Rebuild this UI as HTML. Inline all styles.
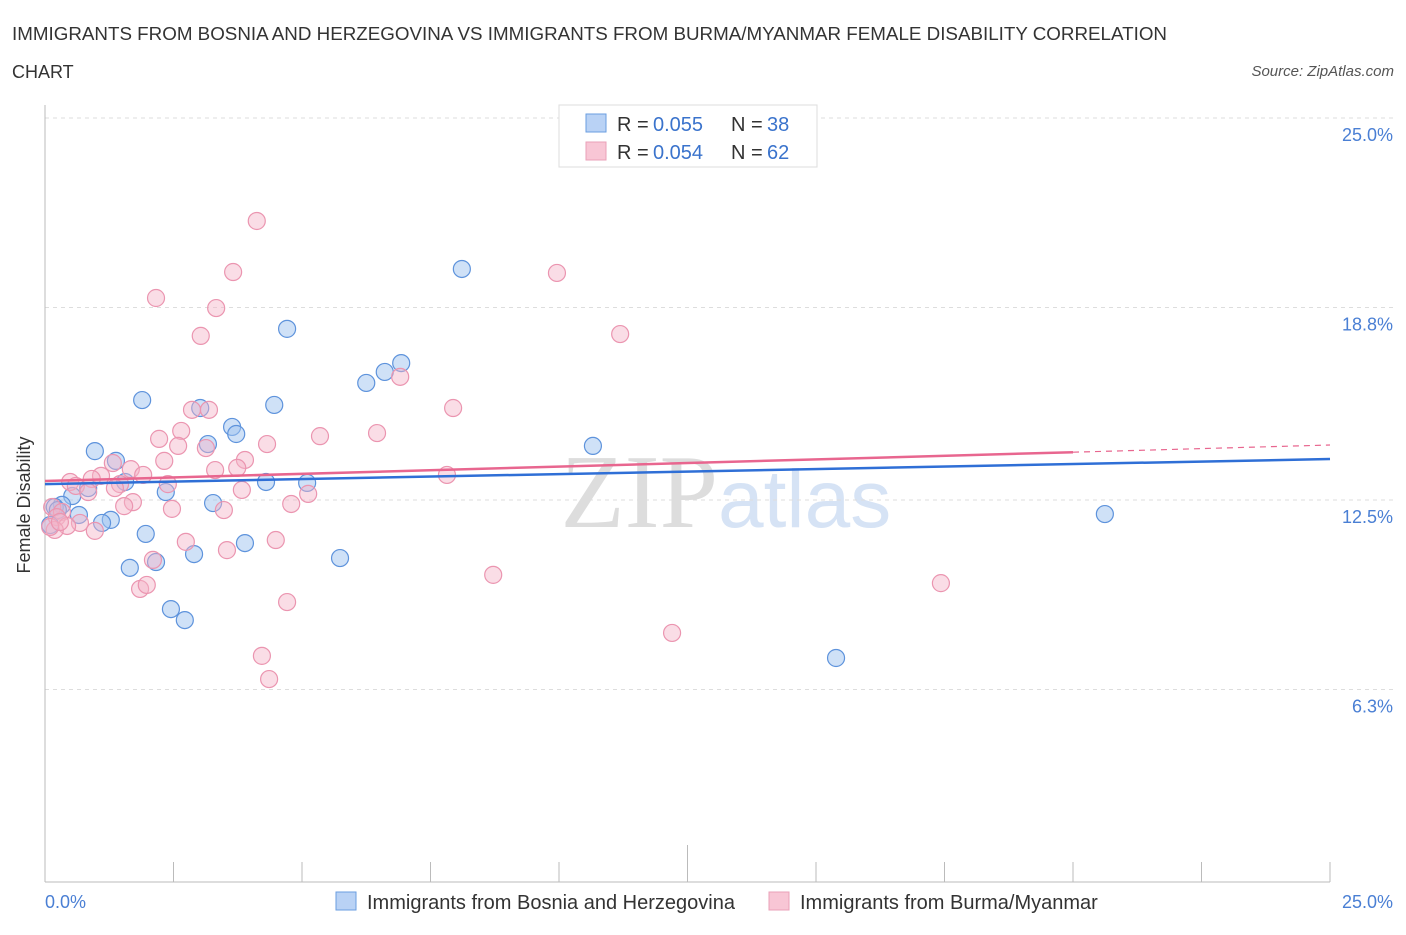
<!DOCTYPE html>
<html><head><meta charset="utf-8"><style>
body{margin:0;background:#fff;font-family:"Liberation Sans",sans-serif;}
</style></head><body>
<svg width="1406" height="930" viewBox="0 0 1406 930" font-family="Liberation Sans, sans-serif">
<text x="12" y="40" font-size="18" textLength="1155" lengthAdjust="spacingAndGlyphs" fill="#333">IMMIGRANTS FROM BOSNIA AND HERZEGOVINA VS IMMIGRANTS FROM BURMA/MYANMAR FEMALE DISABILITY CORRELATION</text>
<text x="12" y="78" font-size="18" fill="#333">CHART</text>
<text x="1394" y="76" font-size="15" fill="#555" font-style="italic" text-anchor="end">Source: ZipAtlas.com</text>
<text x="718" y="527" font-size="105" fill="#ddd" text-anchor="end" font-family="Liberation Serif, serif">ZIP</text>
<text x="718" y="527" font-size="82" fill="#d6e3f5">atlas</text>
<g id="grid"></g>
<line x1="45" y1="105" x2="45" y2="882" stroke="#bbb"/>
<line x1="45" y1="882" x2="1330" y2="882" stroke="#bbb"/>
<g id="ticks"></g>
<g id="pts"></g>
<g id="trends"></g>
<text x="18" y="493" font-size="18" fill="#333" text-anchor="middle" transform="rotate(-90 30 493)">Female Disability</text>
<text x="45" y="908" font-size="18" fill="#4a7fd4">0.0%</text>
<text x="1393" y="908" font-size="18" fill="#4a7fd4" text-anchor="end">25.0%</text>
<g>
<rect x="559" y="105" width="258" height="62" fill="#fff" stroke="#ddd"/>
<rect x="586" y="114" width="20" height="18" fill="#b9d2f5" stroke="#6a9ee0"/>
<rect x="586" y="142" width="20" height="18" fill="#f8c6d5" stroke="#eaa0b8"/>
<text x="617" y="131" font-size="20" fill="#333">R =</text><text x="653" y="131" font-size="20" fill="#3a73cc">0.055</text>
<text x="731" y="131" font-size="20" fill="#333">N =</text><text x="767" y="131" font-size="20" fill="#3a73cc">38</text>
<text x="617" y="159" font-size="20" fill="#333">R =</text><text x="653" y="159" font-size="20" fill="#3a73cc">0.054</text>
<text x="731" y="159" font-size="20" fill="#333">N =</text><text x="767" y="159" font-size="20" fill="#3a73cc">62</text>
</g>
<g>
<rect x="336" y="892" width="20" height="18" fill="#b9d2f5" stroke="#6a9ee0"/>
<text x="367" y="909" font-size="20" fill="#333">Immigrants from Bosnia and Herzegovina</text>
<rect x="769" y="892" width="20" height="18" fill="#f8c6d5" stroke="#eaa0b8"/>
<text x="800" y="909" font-size="20" fill="#333">Immigrants from Burma/Myanmar</text>
</g>
</svg>
<script>
const yTicks=[25.0,18.8,12.5,6.3];
const yTickLabels=["25.0%","18.8%","12.5%","6.3%"];
const blueX=[8.11,4.71,6.93,6.61,6.25,1.89,4.46,3.02,3.64,3.72,3.17,0.97,10.66,1.38,1.56,4.30,5.10,0.84,2.35,0.53,3.27,0.33,0.19,0.66,1.28,1.11,20.62,1.96,3.89,2.90,5.74,2.16,1.65,2.45,2.72,15.39,0.10,0.25];
const blueY=[20.06,18.10,16.98,16.69,16.33,15.77,15.61,15.51,14.89,14.66,14.33,14.10,14.27,13.78,13.09,13.09,13.06,12.89,12.76,12.63,12.40,12.34,12.27,12.01,11.85,11.75,12.04,11.39,11.09,10.73,10.60,10.47,10.28,8.93,8.57,7.33,11.68,12.17];
const pinkX=[4.12,3.66,9.96,2.16,3.33,3.03,11.19,6.91,7.94,2.86,3.19,2.65,5.35,6.46,2.22,2.59,3.13,4.32,1.32,3.89,2.32,3.74,3.31,1.67,1.91,7.82,1.09,0.49,1.46,2.39,0.91,0.60,1.36,3.83,0.84,5.12,1.71,1.54,4.79,2.47,3.48,0.14,0.33,0.23,0.68,0.43,0.97,0.19,0.10,2.74,4.49,2.10,3.54,1.85,1.98,8.72,17.43,4.71,12.20,4.22,4.36,0.29];
const pinkY=[21.63,19.96,19.93,19.11,18.78,17.87,17.93,16.53,15.51,15.45,15.45,14.76,14.59,14.69,14.50,14.27,14.20,14.33,13.71,13.81,13.78,13.55,13.48,13.51,13.32,13.32,13.29,13.09,13.02,13.02,13.19,12.96,12.89,12.83,12.76,12.70,12.43,12.30,12.37,12.21,12.17,12.27,12.11,11.94,11.75,11.65,11.49,11.52,11.62,11.13,11.19,10.54,10.86,9.59,9.72,10.05,9.78,9.16,8.15,7.40,6.64,11.78];
const blueTrend=[13.02,13.84];
const pinkTrend=[13.12,14.30];
const pinkSolidEnd=20;
const NS="http://www.w3.org/2000/svg";
const xs=v=>45+v/25*1285, ys=v=>882-v/25*764;
function mk(t,a,p){const e=document.createElementNS(NS,t);for(const k in a)e.setAttribute(k,a[k]);p.appendChild(e);return e;}
const grid=document.getElementById('grid');
yTicks.forEach((t,i)=>{
 const l=mk('line',{x1:45,x2:1393,y1:ys(t),y2:ys(t),stroke:'#ddd','stroke-dasharray':'4,4'},grid);
 
 
 const tx=mk('text',{x:1393,y:ys(t)+23,'font-size':18,fill:'#4a7fd4','text-anchor':'end'},grid);
 tx.textContent=yTickLabels[i];
 
 
});
const tk=document.getElementById('ticks');
for(let i=0;i<=10;i++){const l=mk('line',{x1:xs(i*2.5),x2:xs(i*2.5),y1:i==5?845:862,y2:882,stroke:'#bbb'},tk);
 
 }
const pts=document.getElementById('pts');
blueX.forEach((x,i)=>{const c=mk('circle',{cx:xs(x),cy:ys(blueY[i]),r:8.5,fill:'rgba(160,195,240,0.5)',stroke:'#5e93dc','stroke-width':1.2},pts);
 
 });
pinkX.forEach((x,i)=>{const c=mk('circle',{cx:xs(x),cy:ys(pinkY[i]),r:8.5,fill:'rgba(245,180,200,0.45)',stroke:'#eb95b0','stroke-width':1.2},pts);
 
 });
const tr=document.getElementById('trends');
let b=mk('line',{x1:xs(0),y1:ys(blueTrend[0]),x2:xs(25),y2:ys(blueTrend[1]),stroke:'#2f6fd6','stroke-width':2.5},tr);


const pm=pinkTrend[0]+(pinkTrend[1]-pinkTrend[0])*pinkSolidEnd/25;
let p=mk('line',{x1:xs(0),y1:ys(pinkTrend[0]),x2:xs(pinkSolidEnd),y2:ys(pm),stroke:'#e8668f','stroke-width':2.5},tr);


let pd=mk('line',{x1:xs(pinkSolidEnd),y1:ys(pm),x2:xs(25),y2:ys(pinkTrend[1]),stroke:'#e8668f','stroke-width':1.2,'stroke-dasharray':'6,5'},tr);


</script>
</body></html>
